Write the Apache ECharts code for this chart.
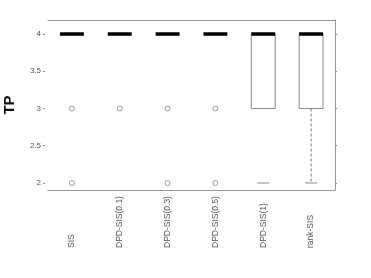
<!DOCTYPE html>
<html><head><meta charset="utf-8">
<script src="https://cdn.jsdelivr.net/npm/echarts@6/dist/echarts.min.js"></script>
<style>html,body{margin:0;padding:0;background:#fff}#c{width:371px;height:278px}</style>
</head><body><div id="c"></div>
<script>
var categories = ['SIS','DPD-SIS(0.1)','DPD-SIS(0.3)','DPD-SIS(0.5)','DPD-SIS(1)','rank-SIS'];
var lowerWhisker = [4,4,4,4,2,2];
var q1 = [4,4,4,4,3,3];
var median = [4,4,4,4,4,4];
var q3 = [4,4,4,4,4,4];
var upperWhisker = [4,4,4,4,4,4];
var whiskerLineShown = [1,1,1,1,0,1];
var outlierCat = [0,0,1,2,2,3,3];
var outlierVal = [3,2,3,3,2,3,2];
var yTicks = [2,2.5,3,3.5,4];

var boxData = categories.map(function(c,i){
  return [i, lowerWhisker[i], q1[i], median[i], q3[i], upperWhisker[i], whiskerLineShown[i]];
});
var outData = outlierCat.map(function(c,i){ return [c, outlierVal[i]]; });

function renderBox(params, api){
  var x = api.value(0);
  var band = api.size([1,0])[0];
  var bw = band*0.5, sw = band*0.25;
  var pLo = api.coord([x, api.value(1)]);
  var pQ1 = api.coord([x, api.value(2)]);
  var pMed = api.coord([x, api.value(3)]);
  var pQ3 = api.coord([x, api.value(4)]);
  var pHi = api.coord([x, api.value(5)]);
  var cx = pMed[0];
  var ch = [];
  var grey = '#8a8a8a';
  if (pQ1[1] - pQ3[1] > 0.5) {
    ch.push({type:'rect', shape:{x:cx-bw/2, y:pQ3[1], width:bw, height:pQ1[1]-pQ3[1]},
      style:{fill:'#fff', stroke:grey, lineWidth:1}});
  }
  if (pLo[1] - pQ1[1] > 0.5) {
    if (api.value(6)) {
      ch.push({type:'line', shape:{x1:cx,y1:pQ1[1],x2:cx,y2:pLo[1]},
        style:{stroke:'#777', lineWidth:1, lineDash:[3,2]}});
    }
    ch.push({type:'line', shape:{x1:cx-sw/2,y1:pLo[1],x2:cx+sw/2,y2:pLo[1]},
      style:{stroke:grey, lineWidth:1}});
  }
  if (pQ3[1] - pHi[1] > 0.5) {
    ch.push({type:'line', shape:{x1:cx,y1:pQ3[1],x2:cx,y2:pHi[1]},
      style:{stroke:'#777', lineWidth:1, lineDash:[3,2]}});
    ch.push({type:'line', shape:{x1:cx-sw/2,y1:pHi[1],x2:cx+sw/2,y2:pHi[1]},
      style:{stroke:grey, lineWidth:1}});
  }
  ch.push({type:'line', shape:{x1:cx-bw/2,y1:pMed[1],x2:cx+bw/2,y2:pMed[1]},
    style:{stroke:'#000', lineWidth:3.5}});
  return {type:'group', children:ch};
}

var chart = echarts.init(document.getElementById('c'), null, {renderer:'canvas'});
var yMin = 1.906, yMax = 4.188;
chart.setOption({
  animation:false,
  grid:{left:48, right:36, top:20, bottom:88, containLabel:false, outerBoundsMode:'none'},
  xAxis:[{
    type:'category', data:categories, position:'bottom',
    axisLine:{show:true, lineStyle:{color:'#999', width:1}},
    axisTick:{show:false},
    axisLabel:{rotate:90, align:'left', verticalAlign:'middle', margin:58, interval:0,
      fontFamily:'Liberation Sans', fontSize:8.5, color:'#555'}
  },{
    type:'category', data:categories, position:'top',
    axisLine:{show:true, lineStyle:{color:'#999', width:1}},
    axisTick:{show:false}, axisLabel:{show:false}
  }],
  yAxis:[{
    type:'value', min:yMin, max:yMax, position:'left', offset:3,
    name:'TP', nameLocation:'middle', nameGap:28, nameRotate:90, nameMoveOverlap:false,
    nameTextStyle:{fontFamily:'Liberation Sans', fontWeight:'bold', fontSize:15, color:'#111'},
    axisLine:{show:false}, splitLine:{show:false},
    axisTick:{show:true, length:2, customValues:yTicks, lineStyle:{color:'#888'}},
    axisLabel:{customValues:yTicks, margin:4, fontFamily:'Liberation Sans', fontSize:8, color:'#555'}
  },{
    type:'value', min:yMin, max:yMax, position:'right',
    axisLine:{show:true, lineStyle:{color:'#999', width:1}}, splitLine:{show:false},
    axisTick:{show:true, length:2, customValues:yTicks, lineStyle:{color:'#888'}},
    axisLabel:{show:false}
  }],
  series:[{
    type:'custom', renderItem:renderBox, data:boxData, encode:{x:0, y:[1,2,3,4,5]}, z:3
  },{
    type:'scatter', data:outData, symbol:'circle', symbolSize:5,
    itemStyle:{color:'#fff', borderColor:'#777', borderWidth:0.9}, z:4
  }]
});
</script></body></html>
